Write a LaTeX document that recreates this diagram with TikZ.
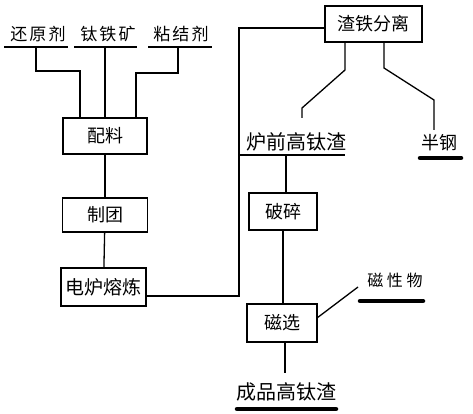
\documentclass[tikz,border=0pt]{standalone}
\usepackage{fontspec}
\newfontfamily\cjk{Noto Sans CJK SC}
\newfontfamily\cjksp[LetterSpace=12]{Noto Sans CJK SC}
\newfontfamily\cjkwide[LetterSpace=22]{Noto Sans CJK SC}
\begin{document}
\begin{tikzpicture}[x=1pt,y=-1pt,
  proc/.style={draw,line width=1.4pt,minimum height=36pt,inner sep=0pt,font=\cjk\fontsize{18}{18}\selectfont},
  lbl/.style={inner sep=0pt,font=\cjksp\fontsize{17}{17}\selectfont},
  big/.style={inner sep=0pt,font=\cjk\fontsize{20}{20}\selectfont},
  ln/.style={line width=1.3pt},
  ul/.style={line width=1.2pt},
  thick ul/.style={line width=4.5pt,line cap=round}]
\useasboundingbox (0,0) rectangle (473,414);
% top inputs
\node[lbl] (hy) at (38,34) {还原剂};
\node[lbl] (tt) at (108,34) {钛铁矿};
\node[lbl] (nj) at (181,34) {粘结剂};
\coordinate (hyL) at (4,47); \coordinate (hyR) at (68,47);
\coordinate (ttL) at (74,47); \coordinate (ttR) at (137,47);
\coordinate (njL) at (148,47); \coordinate (njR) at (212,47);
\draw[ul] (hyL) -- (hyR);
\draw[ul] (ttL) -- (ttR);
\draw[ul] (njL) -- (njR);
% boxes
\node[proc,minimum width=84pt] (pl) at (105,136) {配料};
\node[proc,minimum width=85pt,minimum height=34pt] (zt) at (105,215) {制团};
\node[proc,minimum width=85pt,minimum height=38pt,font=\cjk\fontsize{19}{19}\selectfont] (dl) at (103.5,287) {电炉熔炼};
\node[proc,minimum width=97pt] (zf) at (373.5,24) {渣铁分离};
\node[proc,minimum width=68pt,minimum height=37pt] (ps) at (283,211.5) {破碎};
\node[proc,minimum width=70pt,minimum height=38pt] (cx) at (282,323) {磁选};
% inputs to 配料
\coordinate (a1) at (36,47); \coordinate (a2) at (36,71); \coordinate (a3) at (80,71);
\draw[ln] (a1) -- (a2) -- (a3) -- (a3 |- pl.north);
\coordinate (b1) at (105,47);
\draw[ln] (b1) -- (b1 |- pl.north);
\coordinate (c1) at (178,47); \coordinate (c2) at (178,73); \coordinate (c3) at (136,73);
\draw[ln] (c1) -- (c2) -- (c3) -- (c3 |- pl.north);
\draw[ln] (pl) -- (zt);
\draw[ln] (zt) -- (dl);
% furnace to separation
\coordinate (d1) at (239,296); \coordinate (d2) at (239,28);
\draw[ln] (dl.east |- d1) -- (d1) -- (d2) -- (zf.west |- d2);
% separation outputs
\node[big] (lq) at (296,142) {炉前高钛渣};
\node[lbl,font=\cjk\fontsize{18}{18}\selectfont] (bg) at (439,143) {半钢};
\coordinate (lqL) at (240,155); \coordinate (lqR) at (345,155);
\draw[ul] (lqL) -- (lqR);
\coordinate (bgL) at (420,158); \coordinate (bgR) at (461,158);
\draw[thick ul] (bgL) -- (bgR);
\coordinate (e1) at (345,42); \coordinate (e2) at (345,70); \coordinate (e3) at (302,108); \coordinate (e4) at (302,118);
\draw[ln] (e1) -- (e2) -- (e3) -- (e4);
\coordinate (f1) at (384,42); \coordinate (f2) at (384,68); \coordinate (f3) at (434,100); \coordinate (f4) at (434,130);
\draw[ln] (f1) -- (f2) -- (f3) -- (f4);
\coordinate (g1) at (286,155);
\draw[ln] (g1) -- (g1 |- ps.north);
\draw[ln] (ps) -- (ps.south |- cx.north);
% magnetic material
\node[lbl,font=\cjkwide\fontsize{16}{16}\selectfont] (cw) at (395,280) {磁性物};
\coordinate (cwL) at (360,301); \coordinate (cwR) at (423,301);
\draw[thick ul] (cwL) -- (cwR);
\coordinate (h1) at (317,318); \coordinate (h2) at (358,287);
\draw[ln] (h1) -- (h2);
% product
\node[big] (cp) at (286,392) {成品高钛渣};
\coordinate (cpL) at (237,409); \coordinate (cpR) at (336,409);
\draw[thick ul] (cpL) -- (cpR);
\coordinate (k1) at (285,373);
\draw[ln] (cx.south -| k1) -- (k1);
\end{tikzpicture}
\end{document}
